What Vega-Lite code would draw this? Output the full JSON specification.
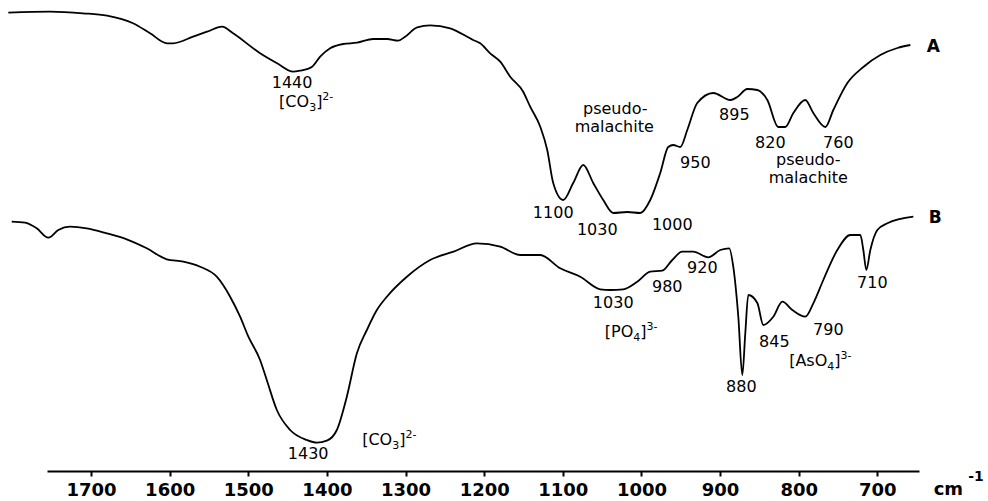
{
  "$schema": "https://vega.github.io/schema/vega-lite/v6.json",
  "width": 872,
  "height": 471,
  "autosize": {"type": "none"},
  "padding": {"left": 47, "top": 0, "right": 69, "bottom": 30},
  "background": "white",
  "config": {"view": {"stroke": null}},
  "datasets": {
    "spectra": [
      {"series": "A", "wn": 1805.2, "T": 458.3},
      {"series": "A", "wn": 1752.2, "T": 459.3},
      {"series": "A", "wn": 1710.2, "T": 457.7},
      {"series": "A", "wn": 1679.6, "T": 455.3},
      {"series": "A", "wn": 1646.6, "T": 447.7},
      {"series": "A", "wn": 1624.9, "T": 437.7},
      {"series": "A", "wn": 1603.3, "T": 427.7},
      {"series": "A", "wn": 1595.7, "T": 427.7},
      {"series": "A", "wn": 1570.2, "T": 434.3},
      {"series": "A", "wn": 1552.4, "T": 439.3},
      {"series": "A", "wn": 1533.3, "T": 444.3},
      {"series": "A", "wn": 1519.3, "T": 437.7},
      {"series": "A", "wn": 1485.0, "T": 417.7},
      {"series": "A", "wn": 1463.4, "T": 407.7},
      {"series": "A", "wn": 1443.0, "T": 399.3},
      {"series": "A", "wn": 1434.1, "T": 400.3},
      {"series": "A", "wn": 1418.8, "T": 404.3},
      {"series": "A", "wn": 1408.6, "T": 414.3},
      {"series": "A", "wn": 1395.9, "T": 422.7},
      {"series": "A", "wn": 1379.4, "T": 427},
      {"series": "A", "wn": 1361.6, "T": 428.3},
      {"series": "A", "wn": 1341.2, "T": 432},
      {"series": "A", "wn": 1323.4, "T": 432},
      {"series": "A", "wn": 1309.4, "T": 430.3},
      {"series": "A", "wn": 1300.5, "T": 434.3},
      {"series": "A", "wn": 1285.2, "T": 443.7},
      {"series": "A", "wn": 1268.7, "T": 445.7},
      {"series": "A", "wn": 1243.2, "T": 442.7},
      {"series": "A", "wn": 1214.0, "T": 431},
      {"series": "A", "wn": 1205.1, "T": 427.7},
      {"series": "A", "wn": 1192.4, "T": 417.7},
      {"series": "A", "wn": 1179.6, "T": 409.3},
      {"series": "A", "wn": 1166.9, "T": 394.3},
      {"series": "A", "wn": 1150.4, "T": 379.3},
      {"series": "A", "wn": 1141.5, "T": 364.3},
      {"series": "A", "wn": 1128.7, "T": 344.3},
      {"series": "A", "wn": 1119.8, "T": 321},
      {"series": "A", "wn": 1112.2, "T": 288},
      {"series": "A", "wn": 1099.5, "T": 271},
      {"series": "A", "wn": 1086.8, "T": 288},
      {"series": "A", "wn": 1074.0, "T": 306},
      {"series": "A", "wn": 1061.3, "T": 288},
      {"series": "A", "wn": 1048.6, "T": 271},
      {"series": "A", "wn": 1035.9, "T": 258},
      {"series": "A", "wn": 1018.0, "T": 259},
      {"series": "A", "wn": 1001.5, "T": 258},
      {"series": "A", "wn": 988.8, "T": 271},
      {"series": "A", "wn": 976.1, "T": 298},
      {"series": "A", "wn": 965.9, "T": 324},
      {"series": "A", "wn": 959.5, "T": 326},
      {"series": "A", "wn": 950.6, "T": 324},
      {"series": "A", "wn": 941.7, "T": 341},
      {"series": "A", "wn": 929.0, "T": 368},
      {"series": "A", "wn": 908.6, "T": 378},
      {"series": "A", "wn": 887.0, "T": 371},
      {"series": "A", "wn": 878.1, "T": 374},
      {"series": "A", "wn": 865.4, "T": 382},
      {"series": "A", "wn": 852.6, "T": 381},
      {"series": "A", "wn": 839.9, "T": 371},
      {"series": "A", "wn": 825.9, "T": 344},
      {"series": "A", "wn": 817.0, "T": 344},
      {"series": "A", "wn": 806.8, "T": 358},
      {"series": "A", "wn": 791.6, "T": 371},
      {"series": "A", "wn": 781.4, "T": 358},
      {"series": "A", "wn": 766.1, "T": 344},
      {"series": "A", "wn": 756.0, "T": 361},
      {"series": "A", "wn": 738.1, "T": 388},
      {"series": "A", "wn": 717.8, "T": 404},
      {"series": "A", "wn": 696.2, "T": 416},
      {"series": "A", "wn": 674.5, "T": 423},
      {"series": "A", "wn": 658.0, "T": 426},
      {"series": "B", "wn": 1800.9, "T": 249.3},
      {"series": "B", "wn": 1784.0, "T": 248.3},
      {"series": "B", "wn": 1769.1, "T": 242.7},
      {"series": "B", "wn": 1754.3, "T": 233.3},
      {"series": "B", "wn": 1741.6, "T": 241},
      {"series": "B", "wn": 1726.7, "T": 244.3},
      {"series": "B", "wn": 1705.5, "T": 242.7},
      {"series": "B", "wn": 1680.0, "T": 237.7},
      {"series": "B", "wn": 1654.6, "T": 231.7},
      {"series": "B", "wn": 1629.1, "T": 222.7},
      {"series": "B", "wn": 1603.7, "T": 211.7},
      {"series": "B", "wn": 1582.6, "T": 209.3},
      {"series": "B", "wn": 1561.3, "T": 204.3},
      {"series": "B", "wn": 1540.1, "T": 194.3},
      {"series": "B", "wn": 1523.1, "T": 174.3},
      {"series": "B", "wn": 1510.4, "T": 154.3},
      {"series": "B", "wn": 1499.9, "T": 134.3},
      {"series": "B", "wn": 1485.0, "T": 111},
      {"series": "B", "wn": 1476.5, "T": 91},
      {"series": "B", "wn": 1463.7, "T": 61},
      {"series": "B", "wn": 1446.8, "T": 41},
      {"series": "B", "wn": 1425.6, "T": 31},
      {"series": "B", "wn": 1412.8, "T": 28.3},
      {"series": "B", "wn": 1400.1, "T": 30.3},
      {"series": "B", "wn": 1387.4, "T": 41},
      {"series": "B", "wn": 1374.7, "T": 74.3},
      {"series": "B", "wn": 1361.9, "T": 117.7},
      {"series": "B", "wn": 1349.2, "T": 141},
      {"series": "B", "wn": 1336.5, "T": 161},
      {"series": "B", "wn": 1323.8, "T": 174.3},
      {"series": "B", "wn": 1298.3, "T": 194.3},
      {"series": "B", "wn": 1268.7, "T": 211},
      {"series": "B", "wn": 1239.0, "T": 219.3},
      {"series": "B", "wn": 1209.3, "T": 227.7},
      {"series": "B", "wn": 1179.6, "T": 224.3},
      {"series": "B", "wn": 1154.2, "T": 216},
      {"series": "B", "wn": 1128.7, "T": 216},
      {"series": "B", "wn": 1103.3, "T": 202.7},
      {"series": "B", "wn": 1077.8, "T": 194.3},
      {"series": "B", "wn": 1052.4, "T": 181.7},
      {"series": "B", "wn": 1039.7, "T": 181},
      {"series": "B", "wn": 1023.1, "T": 181.7},
      {"series": "B", "wn": 1005.3, "T": 189.3},
      {"series": "B", "wn": 988.8, "T": 199.3},
      {"series": "B", "wn": 973.5, "T": 200.3},
      {"series": "B", "wn": 960.8, "T": 211},
      {"series": "B", "wn": 948.1, "T": 219.3},
      {"series": "B", "wn": 934.1, "T": 219.3},
      {"series": "B", "wn": 915.0, "T": 213.7},
      {"series": "B", "wn": 899.7, "T": 221},
      {"series": "B", "wn": 888.3, "T": 222.7},
      {"series": "B", "wn": 883.2, "T": 204.3},
      {"series": "B", "wn": 876.8, "T": 154.3},
      {"series": "B", "wn": 871.7, "T": 96},
      {"series": "B", "wn": 867.9, "T": 138},
      {"series": "B", "wn": 864.1, "T": 176},
      {"series": "B", "wn": 852.6, "T": 168},
      {"series": "B", "wn": 845.0, "T": 146},
      {"series": "B", "wn": 832.3, "T": 154.3},
      {"series": "B", "wn": 820.8, "T": 169.3},
      {"series": "B", "wn": 808.1, "T": 161},
      {"series": "B", "wn": 791.6, "T": 154.3},
      {"series": "B", "wn": 781.4, "T": 167.7},
      {"series": "B", "wn": 768.7, "T": 191},
      {"series": "B", "wn": 750.9, "T": 221},
      {"series": "B", "wn": 734.3, "T": 236},
      {"series": "B", "wn": 721.6, "T": 236},
      {"series": "B", "wn": 717.8, "T": 221},
      {"series": "B", "wn": 714.0, "T": 201},
      {"series": "B", "wn": 708.9, "T": 221},
      {"series": "B", "wn": 700.0, "T": 241},
      {"series": "B", "wn": 687.2, "T": 247.7},
      {"series": "B", "wn": 654.2, "T": 254.3}
    ],
    "notes": [
      {"wn": 1444.3, "T": 383, "label": "1440"},
      {"wn": 1033.3, "T": 357, "label": "pseudo-"},
      {"wn": 1034.6, "T": 339, "label": "malachite"},
      {"wn": 881.9, "T": 351, "label": "895"},
      {"wn": 931.5, "T": 303, "label": "950"},
      {"wn": 836.1, "T": 323, "label": "820"},
      {"wn": 749.6, "T": 323, "label": "760"},
      {"wn": 787.8, "T": 306, "label": "pseudo-"},
      {"wn": 787.8, "T": 288, "label": "malachite"},
      {"wn": 1112.2, "T": 253, "label": "1100"},
      {"wn": 1056.2, "T": 236, "label": "1030"},
      {"wn": 960.8, "T": 241, "label": "1000"},
      {"wn": 922.6, "T": 198, "label": "920"},
      {"wn": 967.2, "T": 179, "label": "980"},
      {"wn": 1035.9, "T": 163, "label": "1030"},
      {"wn": 873.0, "T": 79, "label": "880"},
      {"wn": 831.0, "T": 124, "label": "845"},
      {"wn": 762.3, "T": 136, "label": "790"},
      {"wn": 706.3, "T": 183, "label": "710"},
      {"wn": 1423.9, "T": 12, "label": "1430"}
    ],
    "chem": [
      {"wn": 1460.8, "T": 364, "label": "[CO"},
      {"wn": 1413.7, "T": 364, "label": "]"},
      {"wn": 1355.2, "T": 26, "label": "[CO"},
      {"wn": 1308.1, "T": 26, "label": "]"},
      {"wn": 1046.6, "T": 134, "label": "[PO"},
      {"wn": 1001.4, "T": 134, "label": "]"},
      {"wn": 812.1, "T": 105, "label": "[AsO"},
      {"wn": 754.7, "T": 105, "label": "]"}
    ],
    "chemSub": [
      {"wn": 1422.6, "T": 360, "label": "3"},
      {"wn": 1317.0, "T": 22, "label": "3"},
      {"wn": 1010.3, "T": 130, "label": "4"},
      {"wn": 763.6, "T": 101, "label": "4"}
    ],
    "chemSup": [
      {"wn": 1405.8, "T": 371, "label": "2-"},
      {"wn": 1300.2, "T": 33, "label": "2-"},
      {"wn": 993.5, "T": 141, "label": "3-"},
      {"wn": 746.8, "T": 112, "label": "3-"}
    ],
    "tags": [
      {"wn": 628.7, "T": 419, "label": "A"},
      {"wn": 626.2, "T": 248, "label": "B"}
    ],
    "unit": [
      {"wn": 609.6, "T": -24, "label": "cm"}
    ],
    "unitSup": [
      {"wn": 574.6, "T": -10, "label": "-1"}
    ]
  },
  "encoding": {
    "x": {
      "field": "wn",
      "type": "quantitative",
      "scale": {"domain": [647, 1756], "reverse": true, "nice": false, "zero": false},
      "axis": {
        "title": null,
        "values": [1700, 1600, 1500, 1400, 1300, 1200, 1100, 1000, 900, 800, 700],
        "format": "d",
        "grid": false,
        "domainColor": "black",
        "domainWidth": 2,
        "tickColor": "black",
        "tickWidth": 2,
        "tickSize": 5,
        "labelPadding": 5,
        "labelFont": "DejaVu Sans",
        "labelFontWeight": "bold",
        "labelFontSize": 18,
        "labelColor": "black",
        "labelOverlap": false,
        "labelFlush": false
      }
    },
    "y": {
      "field": "T",
      "type": "quantitative",
      "scale": {"domain": [0, 471], "nice": false, "zero": false},
      "axis": null
    }
  },
  "layer": [
    {
      "data": {"name": "spectra"},
      "mark": {"type": "line", "color": "black", "strokeWidth": 1.8, "interpolate": "monotone"},
      "encoding": {"detail": {"field": "series"}}
    },
    {
      "data": {"name": "notes"},
      "mark": {"type": "text", "font": "DejaVu Sans", "fontSize": 16, "color": "black", "align": "center", "baseline": "alphabetic"},
      "encoding": {"text": {"field": "label"}}
    },
    {
      "data": {"name": "chem"},
      "mark": {"type": "text", "font": "DejaVu Sans", "fontSize": 16, "color": "black", "align": "left", "baseline": "alphabetic"},
      "encoding": {"text": {"field": "label"}}
    },
    {
      "data": {"name": "chemSub"},
      "mark": {"type": "text", "font": "DejaVu Sans", "fontSize": 11, "color": "black", "align": "left", "baseline": "alphabetic"},
      "encoding": {"text": {"field": "label"}}
    },
    {
      "data": {"name": "chemSup"},
      "mark": {"type": "text", "font": "DejaVu Sans", "fontSize": 11, "color": "black", "align": "left", "baseline": "alphabetic"},
      "encoding": {"text": {"field": "label"}}
    },
    {
      "data": {"name": "tags"},
      "mark": {"type": "text", "font": "DejaVu Sans", "fontWeight": "bold", "fontSize": 17, "color": "black", "align": "center", "baseline": "alphabetic"},
      "encoding": {"text": {"field": "label"}}
    },
    {
      "data": {"name": "unit"},
      "mark": {"type": "text", "font": "DejaVu Sans", "fontWeight": "bold", "fontSize": 18, "color": "black", "align": "center", "baseline": "alphabetic"},
      "encoding": {"text": {"field": "label"}}
    },
    {
      "data": {"name": "unitSup"},
      "mark": {"type": "text", "font": "DejaVu Sans", "fontWeight": "bold", "fontSize": 14, "color": "black", "align": "center", "baseline": "alphabetic"},
      "encoding": {"text": {"field": "label"}}
    }
  ]
}
